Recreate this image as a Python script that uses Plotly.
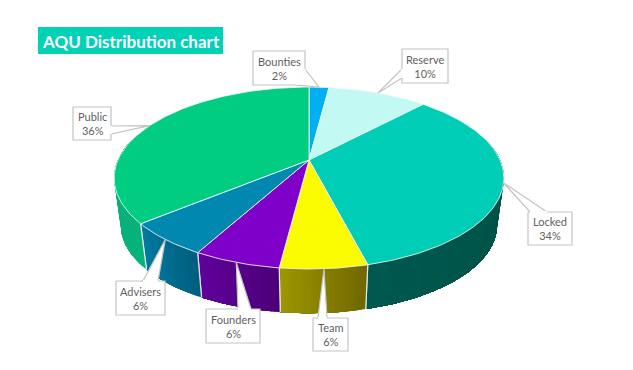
import math
import plotly.graph_objects as go

# Data
labels = ["Bounties", "Reserve", "Locked", "Team", "Founders", "Advisers", "Public"]
shares = [2, 10, 34, 6, 6, 6, 36]
top_colors = ["#00B0F0", "#C2F9F3", "#00CDB5", "#FAFA00", "#7F00C8", "#0088B0", "#00CC82"]
wall_left = ["#0080B0", "#8CC0B8", "#00584E", "#9C9600", "#60009C", "#007BA0", "#08B27A"]
wall_right = ["#0080B0", "#8CC0B8", "#004F45", "#706800", "#4C0078", "#005F80", "#08B27A"]
title_text = "AQU Distribution chart"

# Projection of the tilted disc (pixels)
CX, CY, AX, AY, K = 309, 160, 191, 87.4, 0.198
BOTTOM_SCALE, BOTTOM_Y = 0.965, 208
LABEL_FONT = "Lato, Carlito, Calibri, sans-serif"


def project(deg, lower=False):
    a = math.radians(deg)
    u, v = math.sin(a), math.cos(a)
    d = 1 + K * v
    x, y = AX * u / d, -AY * v / d
    if lower:
        return CX + BOTTOM_SCALE * x, BOTTOM_Y + BOTTOM_SCALE * y
    return CX + x, CY + y


def arc(a0, a1, lower=False, step=1.0):
    n = max(2, int(abs(a1 - a0) / step) + 1)
    return [project(a0 + (a1 - a0) * i / (n - 1), lower) for i in range(n)]


def hex_rgb(h):
    return [int(h[i:i + 2], 16) for i in (1, 3, 5)]


def mix(c0, c1, t):
    a, b = hex_rgb(c0), hex_rgb(c1)
    return "rgb(%d,%d,%d)" % tuple(round(a[i] + (b[i] - a[i]) * t) for i in range(3))


def poly(pts, fill, line=None, width=1):
    xs = [p[0] for p in pts] + [pts[0][0]]
    ys = [p[1] for p in pts] + [pts[0][1]]
    return go.Scatter(x=xs, y=ys, mode="lines", fill="toself", fillcolor=fill,
                      line=dict(color=line or fill, width=width),
                      hoverinfo="skip", showlegend=False)


# Slice angles, clockwise from the top
edges = [0.0]
for s in shares:
    edges.append(edges[-1] + s * 360.0 / sum(shares))

fig = go.Figure()

# Walls, only the front part is ever visible. Each band is painted from its
# start to the end of the slice, so the next band covers it without a seam.
for i in range(len(shares)):
    a0, a1 = edges[i], edges[i + 1]
    lo, hi = max(a0, 75), min(a1, 285)
    if hi <= lo:
        continue
    n = max(1, int((hi - lo) / 1.0))
    for j in range(n):
        s0 = lo + (hi - lo) * j / n
        t = j / max(1, n - 1)
        col = mix(wall_right[i], wall_left[i], t)
        fig.add_trace(poly(arc(s0, hi) + arc(hi, s0, True), col, None, 0))
    for e in (a0, a1):
        if 75 < e < 285:
            p, q = project(e), project(e, True)
            fig.add_trace(go.Scatter(x=[p[0], q[0]], y=[p[1], q[1]], mode="lines",
                                     line=dict(color="rgba(235,240,235,0.9)", width=1.2),
                                     hoverinfo="skip", showlegend=False))

# Top faces
for i in range(len(shares)):
    pts = [(CX, CY)] + arc(edges[i], edges[i + 1])
    fig.add_trace(poly(pts, top_colors[i], "rgba(240,248,245,0.85)", 1))

# Callouts: box (x0, y0, x1, y1), wedge base on the box edge
boxes = [
    (253, 51, 305, 85, [(305, 69), (297, 85)]),
    (402, 49, 448, 83, [(402, 69), (402, 78)]),
    (528, 212, 572, 245, [(547, 212), (530, 212)]),
    (313, 318, 348, 351, [(327, 318), (318, 318)]),
    (206, 309, 260, 343, [(251, 309), (238, 309)]),
    (116, 281, 165, 315, [(158, 281), (143, 281)]),
    (73, 107, 111, 140, [(111, 126), (111, 134)]),
]
for i, (x0, y0, x1, y1, base) in enumerate(boxes):
    tip = project((edges[i] + edges[i + 1]) / 2)
    rect = [(x0, y0), (x1, y0), (x1, y1), (x0, y1)]
    fig.add_trace(poly(rect, "white", "#C4C4C4", 1.2))
    fig.add_trace(poly([base[0], tip, base[1]], "white", "#C4C4C4", 1.2))
    fig.add_trace(go.Scatter(x=[base[0][0], base[1][0]], y=[base[0][1], base[1][1]],
                             mode="lines", line=dict(color="white", width=2),
                             hoverinfo="skip", showlegend=False))
    fig.add_annotation(x=(x0 + x1) / 2, y=(y0 + y1) / 2,
                       text=f"{labels[i]}<br>{shares[i]}%", showarrow=False,
                       font=dict(family=LABEL_FONT, size=11, color="#5F5F5F"),
                       xanchor="center", yanchor="middle", align="center")

# Title
fig.add_shape(type="rect", x0=38, y0=27, x1=223, y1=54, fillcolor="#00D2B6", line_width=0, layer="below")
fig.add_annotation(x=130.5, y=41, text=f"<b>{title_text}</b>", showarrow=False,
                   font=dict(family=LABEL_FONT, size=17, color="white"),
                   xanchor="center", yanchor="middle")

fig.update_layout(
    width=633, height=370, margin=dict(l=0, r=0, t=0, b=0),
    paper_bgcolor="white", plot_bgcolor="white", showlegend=False,
    xaxis=dict(range=[0, 633], visible=False, fixedrange=True),
    yaxis=dict(range=[370, 0], visible=False, fixedrange=True),
)
fig.write_html("out.html", config=dict(displayModeBar=False),
               post_script="document.body.style.margin='0';document.body.style.overflow='hidden';")
